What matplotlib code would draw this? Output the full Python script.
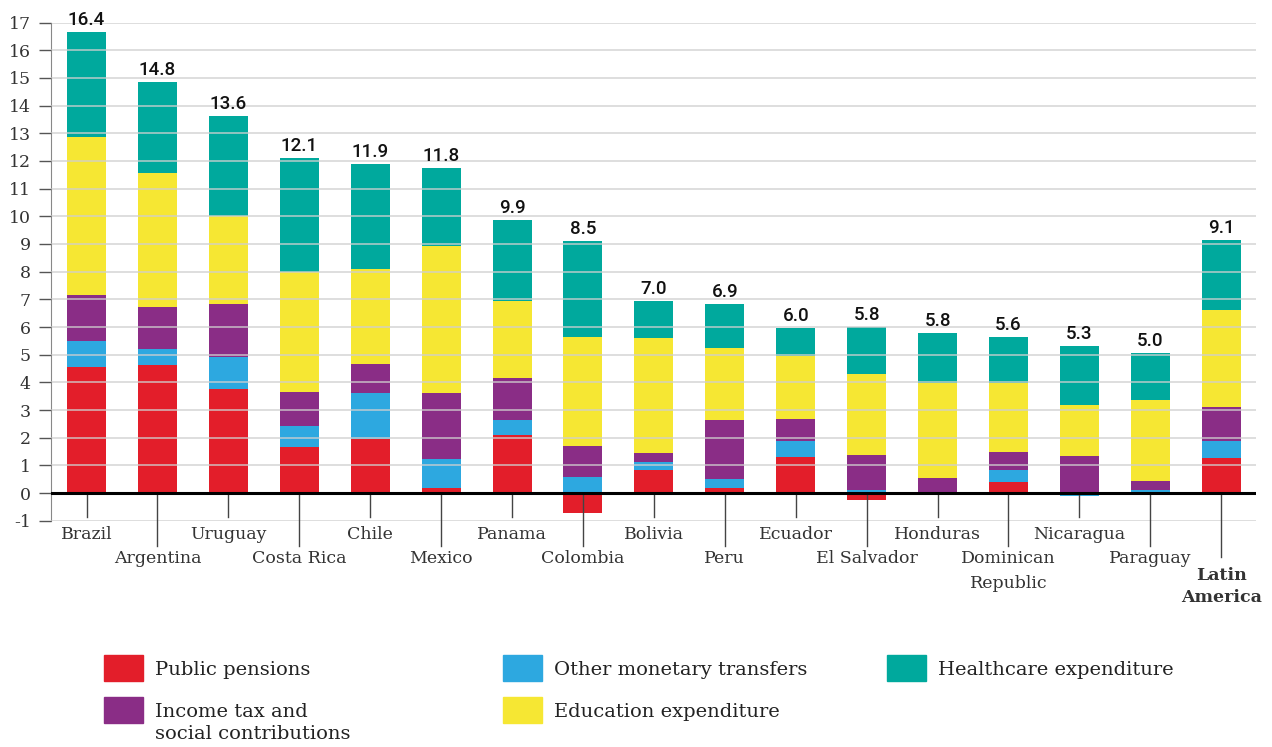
import matplotlib
matplotlib.use('Agg')
import matplotlib.pyplot as plt
from matplotlib.patches import Rectangle
import numpy as np

# ========== Data ==========
countries = ['Brazil', 'Argentina', 'Uruguay', 'Costa Rica', 'Chile', 'Mexico',
             'Panama', 'Colombia', 'Bolivia', 'Peru', 'Ecuador', 'El Salvador',
             'Honduras', 'Dominican\nRepublic', 'Nicaragua', 'Paraguay',
             'Latin\nAmerica']
totals = [16.4, 14.8, 13.6, 12.1, 11.9, 11.8, 9.9, 8.5, 7.0, 6.9, 6.0, 5.8,
          5.8, 5.6, 5.3, 5.0, 9.1]

pensions = [4.55, 4.64, 3.77, 1.67, 1.95, 0.17, 2.10, -0.72, 0.84, 0.17, 1.30,
            -0.24, 0.0, 0.41, 0.0, -0.08, 1.28]
other_transfers = [0.95, 0.55, 1.13, 0.77, 1.66, 1.05, 0.54, 0.60, 0.27, 0.33,
                   0.59, 0.12, 0.02, 0.44, -0.10, 0.12, 0.59]
income_tax = [1.65, 1.52, 1.94, 1.21, 1.05, 2.39, 1.53, 1.12, 0.35, 2.14, 0.80,
              1.27, 0.52, 0.64, 1.33, 0.30, 1.24]
education = [5.70, 4.85, 3.16, 4.33, 3.44, 5.31, 2.76, 3.91, 4.13, 2.60, 2.27,
             2.90, 3.44, 2.47, 1.84, 2.95, 3.49]
healthcare = [3.80, 3.28, 3.62, 4.11, 3.78, 2.84, 2.95, 3.48, 1.34, 1.58, 1.00,
              1.70, 1.81, 1.67, 2.15, 1.69, 2.53]

series = [
    ('Public pensions', pensions, '#E31E2A'),
    ('Other monetary transfers', other_transfers, '#2DA8E0'),
    ('Income tax and\nsocial contributions', income_tax, '#8A2D86'),
    ('Education expenditure', education, '#F6E733'),
    ('Healthcare expenditure', healthcare, '#00A99D'),
]

# ========== Figure ==========
W, H = 1272, 747
fig = plt.figure(figsize=(W / 100, H / 100), dpi=100)

def fx(px):
    return px / W

def fy(py):
    return 1 - py / H

ax = fig.add_axes([fx(50.5), fy(520.8), (1256 - 50.5) / W, (520.8 - 22.5) / H])

x = np.arange(len(countries))
pos_base = np.zeros(len(x))
neg_base = np.zeros(len(x))
for name, vals, color in series:
    vals = np.array(vals)
    bottoms = np.where(vals >= 0, pos_base, neg_base)
    ax.bar(x, vals, bottom=bottoms, width=0.55, color=color, linewidth=0, zorder=1)
    pos_base = pos_base + np.clip(vals, 0, None)
    neg_base = neg_base + np.clip(vals, None, 0)

# totals above bars
for xi, top, t in zip(x, pos_base, totals):
    ax.annotate(f'{t:.1f}', xy=(xi, top), xytext=(0, 5), textcoords='offset points',
                ha='center', va='baseline', fontfamily='Roboto', fontsize=13.5,
                fontweight='medium', color='#111111', annotation_clip=False)

ax.set_xlim(-0.508, 16.49)
ax.set_ylim(-1, 17)
ax.set_yticks(range(-1, 18))
ax.set_yticklabels([str(v) for v in range(-1, 18)], fontfamily='DejaVu Serif',
                   fontsize=12.5, color='#333333')
ax.tick_params(axis='y', length=8.6, width=1, color='#555555', pad=5.5)
ax.set_xticks([])
ax.yaxis.grid(True, color='#cfcfcf', linewidth=1.4, alpha=0.7, zorder=2)
ax.set_axisbelow(False)
for s in ['top', 'right', 'bottom']:
    ax.spines[s].set_visible(False)
ax.spines['left'].set_color('#888888')
ax.axhline(0, color='black', linewidth=2.2, zorder=4)

# staggered category labels with leader lines
upp = 27.68  # pixels per unit
for i, (xi, name) in enumerate(zip(x, countries)):
    last = i == len(countries) - 1
    if last:
        line_end, first_base, step = 64, 87, 22
    elif i % 2 == 0:
        line_end, first_base, step = 24, 46, 24
    else:
        line_end, first_base, step = 53, 70, 25
    ax.plot([xi, xi], [0, -line_end / upp], color='#444444', lw=1,
            clip_on=False, zorder=3)
    for k, part in enumerate(name.split('\n')):
        ax.text(xi, -(first_base + k * step) / upp, part, ha='center',
                va='baseline', fontfamily='DejaVu Serif', fontsize=12.5,
                color='#333333', fontweight='bold' if last else 'normal')

# ========== Legend ==========
legend_pos = [(104, 655), (503, 655), (104, 697), (503, 697), (887, 655)]
for (lx, ly), (name, _, color) in zip(legend_pos, series):
    fig.patches.append(Rectangle((fx(lx), fy(ly + 26)), 39 / W, 26 / H,
                                 transform=fig.transFigure, color=color))
    for k, part in enumerate(name.split('\n')):
        fig.text(fx(lx + 51), fy(ly + 20 + k * 22), part, ha='left',
                 va='baseline', fontfamily='DejaVu Serif', fontsize=14,
                 color='#222222')

fig.savefig('out.png', dpi=100)
